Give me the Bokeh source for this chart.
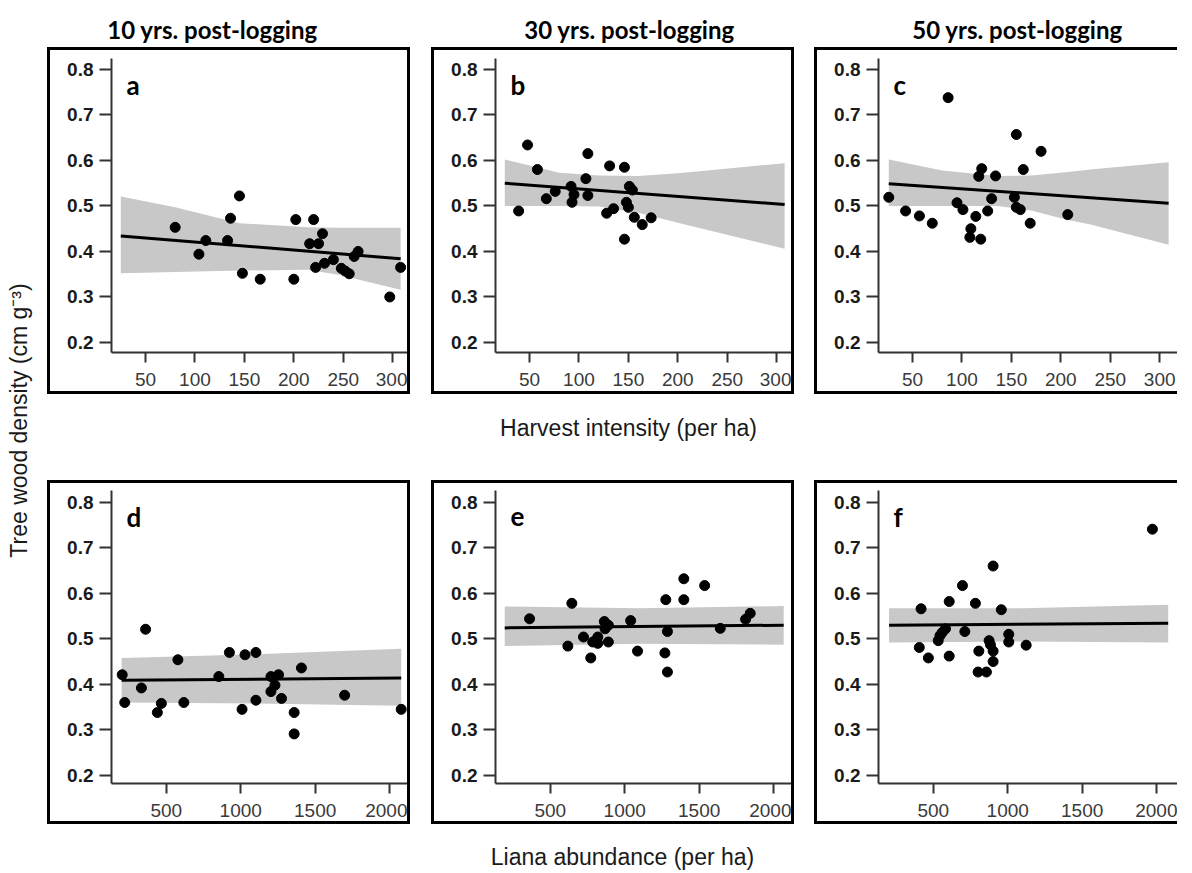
import numpy as np
from bokeh.plotting import figure
from bokeh.layouts import row, column
from bokeh.models import Range1d, FixedTicker, PrintfTickFormatter, Label, Spacer
from bokeh.embed import file_html
from bokeh.resources import INLINE
from bokeh.core.properties import value

# ---------------- text ----------------
col_titles = ["10 yrs. post-logging", "30 yrs. post-logging", "50 yrs. post-logging"]
panel_letters = ["a", "b", "c", "d", "e", "f"]
y_title = "Tree wood density (cm g\u207b\u00b3)"
x_title_top = "Harvest intensity (per ha)"
x_title_bottom = "Liana abundance (per ha)"

# ---------------- ticks ----------------
y_ticks = [0.2, 0.3, 0.4, 0.5, 0.6, 0.7, 0.8]
harvest_ticks = [50, 100, 150, 200, 250, 300]
liana_ticks = [500, 1000, 1500, 2000]

# ---------------- panel a: harvest intensity, 10 yrs ----------------
a_x = [80, 104, 111, 133, 136, 145, 148, 166, 200, 202, 220, 216, 225, 229, 222, 231,
       240, 248, 252, 256, 261, 265, 308, 297]
a_y = [0.453, 0.394, 0.424, 0.424, 0.473, 0.522, 0.352, 0.339, 0.339, 0.470, 0.470, 0.417,
       0.417, 0.439, 0.365, 0.374, 0.382, 0.363, 0.357, 0.351, 0.389, 0.400, 0.365, 0.300]
a_fit_x = [25, 308]
a_fit_y = [0.434, 0.384]
a_band_x = [25, 80, 145, 214, 245, 308]
a_band_hi = [0.521, 0.497, 0.462, 0.453, 0.452, 0.452]
a_band_lo = [0.352, 0.355, 0.358, 0.360, 0.349, 0.316]

# ---------------- panel b: harvest intensity, 30 yrs ----------------
b_x = [39, 48, 58, 67, 76, 92, 93, 95, 107, 109, 109, 128, 135, 131, 146, 151, 148, 150,
       146, 156, 164, 173, 154]
b_y = [0.489, 0.634, 0.580, 0.516, 0.532, 0.543, 0.508, 0.525, 0.560, 0.615, 0.523, 0.484,
       0.494, 0.588, 0.585, 0.543, 0.508, 0.497, 0.427, 0.475, 0.459, 0.474, 0.535]
b_fit_x = [25, 308]
b_fit_y = [0.550, 0.503]
b_band_x = [25, 80, 120, 160, 200, 230, 308]
b_band_hi = [0.602, 0.573, 0.567, 0.566, 0.572, 0.578, 0.594]
b_band_lo = [0.500, 0.500, 0.499, 0.485, 0.463, 0.447, 0.406]

# ---------------- panel c: harvest intensity, 50 yrs ----------------
c_x = [26, 43, 57, 70, 86, 95, 101, 114, 109, 108, 119, 117, 120, 126, 130, 134, 153, 155,
       155, 159, 162, 169, 180, 207]
c_y = [0.519, 0.489, 0.478, 0.462, 0.738, 0.507, 0.492, 0.477, 0.450, 0.431, 0.427, 0.565,
       0.582, 0.489, 0.516, 0.566, 0.519, 0.657, 0.497, 0.492, 0.580, 0.462, 0.620, 0.481]
c_fit_x = [26, 309]
c_fit_y = [0.549, 0.506]
c_band_x = [26, 80, 136, 170, 205, 230, 309]
c_band_hi = [0.602, 0.578, 0.566, 0.567, 0.574, 0.580, 0.596]
c_band_lo = [0.500, 0.500, 0.500, 0.490, 0.470, 0.459, 0.415]

# ---------------- panel d: liana abundance, 10 yrs ----------------
d_x = [204, 221, 333, 361, 440, 467, 578, 618, 853, 924, 1009, 1029, 1102, 1102, 1203, 1254,
       1230, 1203, 1274, 1359, 1359, 1408, 1698, 2078]
d_y = [0.421, 0.360, 0.392, 0.521, 0.338, 0.358, 0.454, 0.360, 0.417, 0.470, 0.345, 0.465,
       0.470, 0.365, 0.417, 0.421, 0.398, 0.384, 0.369, 0.338, 0.291, 0.436, 0.376, 0.345]
d_fit_x = [200, 2078]
d_fit_y = [0.409, 0.414]
d_band_x = [200, 1100, 2078]
d_band_hi = [0.458, 0.466, 0.478]
d_band_lo = [0.360, 0.358, 0.353]

# ---------------- panel e: liana abundance, 30 yrs ----------------
e_x = [361, 645, 618, 723, 772, 785, 819, 819, 863, 868, 890, 890, 1040, 1086, 1270, 1276,
       1287, 1287, 1397, 1397, 1537, 1642, 1812, 1843]
e_y = [0.544, 0.578, 0.484, 0.504, 0.458, 0.493, 0.504, 0.490, 0.538, 0.522, 0.530, 0.493,
       0.540, 0.473, 0.469, 0.586, 0.516, 0.427, 0.632, 0.586, 0.617, 0.523, 0.543, 0.556]
e_fit_x = [194, 2068]
e_fit_y = [0.524, 0.530]
e_band_x = [194, 1100, 2068]
e_band_hi = [0.571, 0.567, 0.572]
e_band_lo = [0.484, 0.489, 0.487]

# ---------------- panel f: liana abundance, 50 yrs ----------------
f_x = [418, 406, 467, 533, 545, 560, 582, 607, 607, 696, 712, 783, 806, 801, 857, 875, 884,
       902, 902, 902, 957, 1007, 1007, 1124, 1972]
f_y = [0.566, 0.481, 0.458, 0.496, 0.507, 0.514, 0.522, 0.582, 0.462, 0.617, 0.516, 0.578,
       0.473, 0.427, 0.427, 0.496, 0.487, 0.473, 0.450, 0.660, 0.564, 0.493, 0.510, 0.486,
       0.741]
f_fit_x = [203, 2078]
f_fit_y = [0.530, 0.534]
f_band_x = [203, 1100, 2078]
f_band_hi = [0.567, 0.567, 0.575]
f_band_lo = [0.492, 0.494, 0.492]

# ---------------- axis ranges ----------------
harvest_range = (15.6, 320)
liana_range = (132, 2154)
y_range_top = (0.178, 0.824)
y_range_bottom = (0.182, 0.826)

FULL = {"border": "3px solid black"}
OPEN_RIGHT = {"border-left": "3px solid black", "border-top": "3px solid black",
              "border-bottom": "3px solid black"}


def panel(px, py, fx, fy, bx, bhi, blo, xr, yr, xticks, letter, styles, h, top, bottom):
    p = figure(width=363, height=h, x_range=Range1d(*xr), y_range=Range1d(*yr),
               output_backend="svg", toolbar_location=None,
               min_border_left=61, min_border_right=1,
               min_border_top=top, min_border_bottom=bottom, styles=styles)
    p.outline_line_color = None
    p.grid.visible = False
    p.background_fill_color = "white"
    p.border_fill_color = "white"
    p.varea(x=bx, y1=blo, y2=bhi, fill_color="#c8c8c8")
    p.line(fx, fy, line_width=3, line_color="black")
    p.scatter(px, py, size=10, fill_color="black", line_color="black")

    for ax in (p.xaxis, p.yaxis):
        ax.axis_line_width = 2
        ax.axis_line_color = "#333333"
        ax.major_tick_line_width = 2
        ax.major_tick_line_color = "#333333"
        ax.major_tick_in = 0
        ax.minor_tick_line_color = None
    p.xaxis.ticker = FixedTicker(ticks=xticks)
    p.xaxis.major_tick_out = 10
    p.xaxis.major_label_standoff = 10
    p.xaxis.major_label_text_font = "Liberation Sans"
    p.xaxis.major_label_text_font_size = "19px"
    p.xaxis.major_label_text_color = "#3a3a3a"
    p.yaxis.ticker = FixedTicker(ticks=y_ticks)
    p.yaxis.formatter = PrintfTickFormatter(format="%.1f")
    p.yaxis.major_tick_out = 12
    p.yaxis.major_label_standoff = 6
    p.yaxis.major_label_text_font = "Liberation Sans"
    p.yaxis.major_label_text_font_style = "bold"
    p.yaxis.major_label_text_font_size = "19px"
    p.yaxis.major_label_text_color = "#1a1a1a"

    frame_h = h - top - bottom
    lx = xr[0] + (xr[1] - xr[0]) * 15 / 301
    ly = yr[1] - (yr[1] - yr[0]) * 26 / frame_h
    p.add_layout(Label(x=lx, y=ly, text=letter, text_font="Lato", text_font_style="bold",
                       text_font_size="26px", text_color="black",
                       text_baseline="alphabetic", text_align="left"))
    return p


def text_fig(w, h):
    p = figure(width=w, height=h, x_range=Range1d(0, w), y_range=Range1d(0, h),
               output_backend="svg", toolbar_location=None, min_border=0)
    p.axis.visible = False
    p.grid.visible = False
    p.outline_line_color = None
    p.background_fill_color = "white"
    p.border_fill_color = "white"
    return p


pa = panel(a_x, a_y, a_fit_x, a_fit_y, a_band_x, a_band_hi, a_band_lo, harvest_range,
           y_range_top, harvest_ticks, panel_letters[0], FULL, 347, 8, 45)
pb = panel(b_x, b_y, b_fit_x, b_fit_y, b_band_x, b_band_hi, b_band_lo, harvest_range,
           y_range_top, harvest_ticks, panel_letters[1], FULL, 347, 8, 45)
pc = panel(c_x, c_y, c_fit_x, c_fit_y, c_band_x, c_band_hi, c_band_lo, harvest_range,
           y_range_top, harvest_ticks, panel_letters[2], OPEN_RIGHT, 347, 8, 45)
pd = panel(d_x, d_y, d_fit_x, d_fit_y, d_band_x, d_band_hi, d_band_lo, liana_range,
           y_range_bottom, liana_ticks, panel_letters[3], FULL, 344, 7, 44)
pe = panel(e_x, e_y, e_fit_x, e_fit_y, e_band_x, e_band_hi, e_band_lo, liana_range,
           y_range_bottom, liana_ticks, panel_letters[4], FULL, 344, 7, 44)
pf = panel(f_x, f_y, f_fit_x, f_fit_y, f_band_x, f_band_hi, f_band_lo, liana_range,
           y_range_bottom, liana_ticks, panel_letters[5], OPEN_RIGHT, 344, 7, 44)

# column titles
tf = text_fig(1145, 47)
tf.text(x=[165, 582, 970], y=[18, 18, 18], text=col_titles, text_font=value("Lato"),
        text_font_style="bold", text_font_size="24px", text_align="center",
        text_baseline="alphabetic", text_color="black")

# x-axis titles
xt1 = text_fig(1145, 80)
xt1.text(x=[581], y=[53], text=[x_title_top], text_font=value("Liberation Sans"),
         text_font_size="23px", text_align="center", text_baseline="middle",
         text_color="#1a1a1a")
xt2 = text_fig(1145, 40)
xt2.text(x=[575], y=[14], text=[x_title_bottom], text_font=value("Liberation Sans"),
         text_font_size="23px", text_align="center", text_baseline="middle",
         text_color="#1a1a1a")

# y-axis title
yt = text_fig(47, 870)
yt.text(x=[18], y=[450], text=[y_title], angle=np.pi / 2,
        text_font=value("Liberation Sans"), text_font_size="23px", text_align="center",
        text_baseline="middle", text_color="#1a1a1a")

top_row = row(pa, Spacer(width=21, height=353), pb, Spacer(width=20, height=353), pc)
bot_row = row(pd, Spacer(width=21, height=350), pe, Spacer(width=20, height=350), pf)
right = column(tf, top_row, xt1, bot_row, xt2)
page = row(yt, right)

open("out.html", "w").write(file_html(page, INLINE))
